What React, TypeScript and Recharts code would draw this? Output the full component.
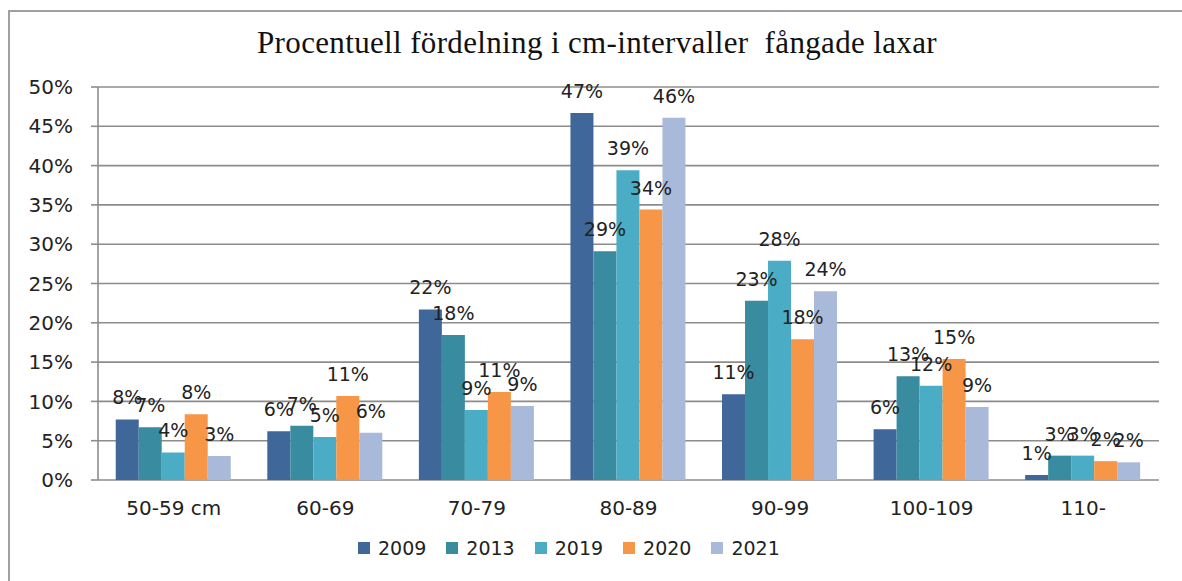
import React from 'react';
import { BarChart, Bar, XAxis, YAxis, CartesianGrid, LabelList, Legend } from 'recharts';

const categories = ['50-59 cm', '60-69', '70-79', '80-89', '90-99', '100-109', '110-'];
const s2009 = [7.7, 6.2, 21.7, 46.7, 10.9, 6.45, 0.64];
const s2013 = [6.7, 6.9, 18.45, 29.1, 22.8, 13.2, 3.1];
const s2019 = [3.5, 5.47, 8.9, 39.4, 27.9, 12.0, 3.1];
const s2020 = [8.36, 10.7, 11.2, 34.4, 17.9, 15.4, 2.4];
const s2021 = [3.05, 6.0, 9.4, 46.1, 24.0, 9.3, 2.25];
const seriesNames = ['2009', '2013', '2019', '2020', '2021'];
const seriesColors = ['#3F6799', '#398BA0', '#4BACC6', '#F79646', '#A8B9D9'];
const yTicks = [0, 5, 10, 15, 20, 25, 30, 35, 40, 45, 50];
const boundaryTicks = [0, 1, 2, 3, 4, 5, 6, 7];
const title = 'Procentuell fördelning i cm-intervaller  fångade laxar';

const allSeries = [s2009, s2013, s2019, s2020, s2021];
const data = categories.map((c, i) => {
  const row: Record<string, string | number> = { cat: c };
  seriesNames.forEach((n, k) => {
    row[n] = allSeries[k][i];
  });
  return row;
});

const GRID = '#8c8c8c';

const renderLegend = (props: any) => {
  const payload = props.payload || [];
  return (
    <div style={{ display: 'flex', alignItems: 'center', fontFamily: 'DejaVu Sans', fontSize: 19, lineHeight: '20px', color: '#222' }}>
      {payload.map((p: any) => (
        <div key={p.value} style={{ display: 'flex', alignItems: 'center', marginRight: 20 }}>
          <div style={{ width: 12, height: 12, background: p.color, marginRight: 8 }} />
          <span>{p.value}</span>
        </div>
      ))}
    </div>
  );
};

export default function App() {
  return (
    <div style={{ position: 'absolute', left: 0, top: 0, width: 1182, height: 581, overflow: 'hidden', background: '#fff', fontFamily: 'DejaVu Sans' }}>
      <div style={{ position: 'absolute', left: 8, top: 10, width: 1300, height: 700, border: '2px solid #a0a0a0' }} />
      <div style={{ position: 'absolute', left: 0, top: 27, width: 1194, textAlign: 'center', fontFamily: '"Liberation Serif"', fontSize: 31, lineHeight: '31px', letterSpacing: '0.35px', whiteSpace: 'pre', color: '#111' }}>
        {title}
      </div>
      <div style={{ position: 'absolute', left: 0, top: 0 }}>
        <BarChart
          width={1182}
          height={581}
          data={data}
          margin={{ top: 87, right: 23, bottom: 71, left: 38 }}
          barCategoryGap="11.7%"
          barGap={0}
        >
          <CartesianGrid xAxisId="cat" vertical={false} stroke={GRID} strokeWidth={1.6} />
          <XAxis
            xAxisId="bound"
            type="number"
            domain={[0, 7]}
            ticks={boundaryTicks}
            allowDataOverflow
            height={0}
            tick={false}
            tickSize={7}
            axisLine={{ stroke: GRID, strokeWidth: 1.6 }}
            tickLine={{ stroke: GRID, strokeWidth: 1.6 }}
          />
          <XAxis
            xAxisId="cat"
            dataKey="cat"
            height={30}
            axisLine={false}
            tickLine={false}
            tickSize={0}
            tickMargin={21}
            interval={0}
            tick={{ fontSize: 20, fill: '#222', fontFamily: 'DejaVu Sans' }}
          />
          <YAxis
            width={60}
            domain={[0, 50]}
            ticks={yTicks}
            tickFormatter={(v: number) => `${v}%`}
            tickSize={7}
            tickMargin={18}
            axisLine={{ stroke: GRID, strokeWidth: 1.6 }}
            tickLine={{ stroke: GRID, strokeWidth: 1.6 }}
            tick={{ fontSize: 20, fill: '#222', fontFamily: 'DejaVu Sans' }}
          />
          <Legend
            verticalAlign="middle"
            align="center"
            layout="horizontal"
            content={renderLegend}
            wrapperStyle={{ top: 538, left: 358, width: 'auto' }}
          />
          {seriesNames.map((n, k) => (
            <Bar key={n} xAxisId="cat" dataKey={n} fill={seriesColors[k]} isAnimationActive={false}>
              <LabelList
                dataKey={n}
                position="top"
                offset={15}
                formatter={(v: any) => `${Math.round(Number(v))}%`}
                style={{ fontSize: 19, fill: '#222', fontFamily: 'DejaVu Sans' }}
              />
            </Bar>
          ))}
        </BarChart>
      </div>
    </div>
  );
}
